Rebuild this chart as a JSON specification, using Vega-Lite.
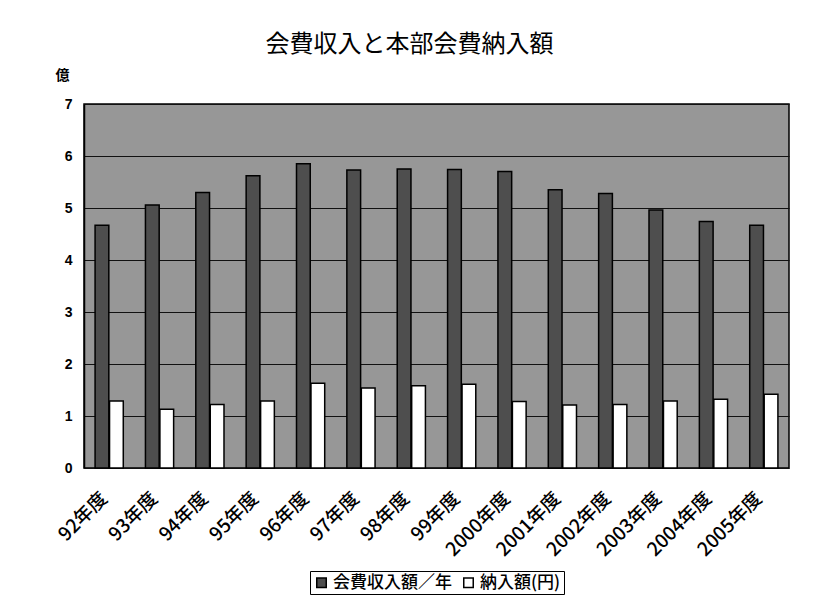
{
  "$schema": "https://vega.github.io/schema/vega-lite/v6.json",
  "autosize": "none",
  "width": 705,
  "height": 364,
  "padding": {"left": 84, "top": 104, "right": 27, "bottom": 139},
  "background": "white",
  "title": {
    "text": "会費収入と本部会費納入額",
    "font": "Noto Sans CJK JP",
    "fontSize": 24,
    "fontWeight": "normal",
    "color": "#000",
    "anchor": "middle",
    "dx": -27,
    "offset": 11
  },
  "data": {
    "values": [
      {"year": "92年度", "series": "会費収入額／年", "value": 4.67},
      {"year": "93年度", "series": "会費収入額／年", "value": 5.06},
      {"year": "94年度", "series": "会費収入額／年", "value": 5.30},
      {"year": "95年度", "series": "会費収入額／年", "value": 5.62},
      {"year": "96年度", "series": "会費収入額／年", "value": 5.85},
      {"year": "97年度", "series": "会費収入額／年", "value": 5.73},
      {"year": "98年度", "series": "会費収入額／年", "value": 5.75},
      {"year": "99年度", "series": "会費収入額／年", "value": 5.74},
      {"year": "2000年度", "series": "会費収入額／年", "value": 5.70},
      {"year": "2001年度", "series": "会費収入額／年", "value": 5.35},
      {"year": "2002年度", "series": "会費収入額／年", "value": 5.28},
      {"year": "2003年度", "series": "会費収入額／年", "value": 4.96},
      {"year": "2004年度", "series": "会費収入額／年", "value": 4.74},
      {"year": "2005年度", "series": "会費収入額／年", "value": 4.67},
      {"year": "92年度", "series": "納入額(円)", "value": 1.29},
      {"year": "93年度", "series": "納入額(円)", "value": 1.13},
      {"year": "94年度", "series": "納入額(円)", "value": 1.22},
      {"year": "95年度", "series": "納入額(円)", "value": 1.29},
      {"year": "96年度", "series": "納入額(円)", "value": 1.63},
      {"year": "97年度", "series": "納入額(円)", "value": 1.54},
      {"year": "98年度", "series": "納入額(円)", "value": 1.58},
      {"year": "99年度", "series": "納入額(円)", "value": 1.61},
      {"year": "2000年度", "series": "納入額(円)", "value": 1.28},
      {"year": "2001年度", "series": "納入額(円)", "value": 1.21},
      {"year": "2002年度", "series": "納入額(円)", "value": 1.22},
      {"year": "2003年度", "series": "納入額(円)", "value": 1.29},
      {"year": "2004年度", "series": "納入額(円)", "value": 1.32},
      {"year": "2005年度", "series": "納入額(円)", "value": 1.42}
    ]
  },
  "mark": {"type": "bar", "stroke": "#000", "strokeWidth": 1.5},
  "encoding": {
    "x": {
      "field": "year",
      "type": "nominal",
      "sort": null,
      "scale": {"paddingInner": 0.44, "paddingOuter": 0.22},
      "axis": {
        "title": null,
        "labelAngle": -45,
        "labelAlign": "right",
        "labelBaseline": "middle",
        "labelFont": "Noto Sans CJK JP",
        "labelFontSize": 19,
        "labelFontWeight": 500,
        "labelColor": "#000",
        "labelPadding": 27,
        "labelOffset": -5,
        "labelOverlap": false,
        "ticks": false,
        "domain": false
      }
    },
    "xOffset": {"field": "series", "type": "nominal", "sort": ["会費収入額／年", "納入額(円)"], "scale": {"paddingInner": 0.05}},
    "y": {
      "field": "value",
      "type": "quantitative",
      "scale": {"domain": [0, 7], "nice": false},
      "axis": {
        "title": "億",
        "titleAngle": 0,
        "titleX": -22,
        "titleY": -22,
        "titleAlign": "center",
        "titleFont": "Noto Sans CJK JP",
        "titleFontSize": 14,
        "titleFontWeight": "bold",
        "titleColor": "#000",
        "values": [0, 1, 2, 3, 4, 5, 6, 7],
        "labelFont": "Liberation Sans",
        "labelFontSize": 14,
        "labelFontWeight": "bold",
        "labelColor": "#000",
        "labelPadding": 12,
        "ticks": false,
        "domain": true,
        "domainColor": "#000",
        "domainWidth": 1.5,
        "grid": true,
        "gridColor": "#111",
        "gridWidth": 1,
        "gridOpacity": 1
      }
    },
    "fill": {
      "field": "series",
      "type": "nominal",
      "sort": ["会費収入額／年", "納入額(円)"],
      "scale": {"domain": ["会費収入額／年", "納入額(円)"], "range": ["#4e4e4e", "#ffffff"]},
      "legend": {
        "title": null,
        "orient": "none",
        "direction": "horizontal",
        "legendX": 226,
        "legendY": 467,
        "symbolType": "square",
        "symbolSize": 90,
        "symbolStrokeColor": "#000",
        "symbolStrokeWidth": 1.5,
        "labelFont": "Noto Sans CJK JP",
        "labelFontSize": 17,
        "labelFontWeight": 500,
        "labelColor": "#000",
        "labelOffset": 3,
        "columnPadding": 8,
        "padding": 3,
        "strokeColor": "#000",
        "fillColor": "#fff"
      }
    }
  },
  "config": {
    "view": {"fill": "#979797", "stroke": "#000", "strokeWidth": 1.5}
  }
}
